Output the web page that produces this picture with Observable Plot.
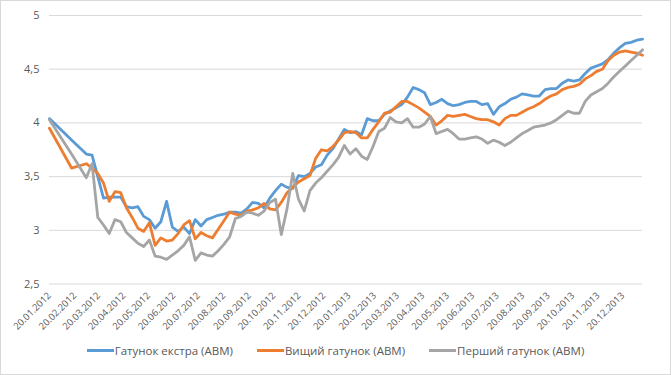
<!DOCTYPE html>
<html>
<head>
<meta charset="utf-8">
<script src="https://cdn.jsdelivr.net/npm/d3@7"></script>
<script src="https://cdn.jsdelivr.net/npm/@observablehq/plot@0.6"></script>
<style>
  html, body { margin: 0; padding: 0; background: #fff; }
  #wrap { position: relative; width: 671px; height: 375px; box-sizing: border-box; border: 1px solid #d9d9d9; background: #fff; overflow: hidden; font-family: "Open Sans", "Liberation Sans", sans-serif; }
  #chart { position: absolute; left: -1px; top: -1px; }
  #legend { position: absolute; left: 0; top: 342px; width: 669px; display: flex; justify-content: center; gap: 24px; font-size: 11.5px; color: #595959; }
  .item { display: flex; align-items: center; }
  .sw { width: 27px; height: 3px; margin-right: 1px; }
</style>
</head>
<body>
<div id="wrap"><div id="chart"></div><div id="legend"></div></div>
<script>
const seriesNames = ["Гатунок екстра (АВМ)", "Вищий гатунок (АВМ)", "Перший гатунок (АВМ)"];
const seriesColors = ["#5b9bd5", "#ed7d31", "#a5a5a5"];

const dates = [
  "2012-01-20","2012-02-16",
  "2012-03-05","2012-03-12","2012-03-19","2012-03-26",
  "2012-04-02","2012-04-09","2012-04-16","2012-04-23","2012-04-30",
  "2012-05-07","2012-05-14","2012-05-21","2012-05-28",
  "2012-06-04","2012-06-11","2012-06-18","2012-06-25",
  "2012-07-02","2012-07-09","2012-07-16","2012-07-23","2012-07-30",
  "2012-08-06","2012-08-13","2012-08-20","2012-08-27",
  "2012-09-03","2012-09-10","2012-09-17","2012-09-24",
  "2012-10-01","2012-10-08","2012-10-15","2012-10-22","2012-10-29",
  "2012-11-05","2012-11-12","2012-11-19","2012-11-26",
  "2012-12-03","2012-12-10","2012-12-17","2012-12-24","2012-12-31",
  "2013-01-07","2013-01-14","2013-01-21","2013-01-28",
  "2013-02-04","2013-02-11","2013-02-18","2013-02-25",
  "2013-03-04","2013-03-11","2013-03-18","2013-03-25",
  "2013-04-01","2013-04-08","2013-04-15","2013-04-22","2013-04-29",
  "2013-05-06","2013-05-13","2013-05-20","2013-05-27",
  "2013-06-03","2013-06-10","2013-06-17","2013-06-24",
  "2013-07-01","2013-07-08","2013-07-15","2013-07-22","2013-07-29",
  "2013-08-05","2013-08-12","2013-08-19","2013-08-26",
  "2013-09-02","2013-09-09","2013-09-16","2013-09-23","2013-09-30",
  "2013-10-07","2013-10-14","2013-10-21","2013-10-28",
  "2013-11-04","2013-11-11","2013-11-18","2013-11-25",
  "2013-12-02","2013-12-09","2013-12-16","2013-12-23","2013-12-30",
  "2014-01-06","2014-01-13"
];

const extra = [4.04,3.84,
  3.71,3.70,3.50,3.30,3.31,3.31,3.31,3.22,3.21,3.22,
  3.13,3.10,3.02,3.08,3.27,3.03,2.99,3.03,2.97,3.10,
  3.04,3.10,3.12,3.14,3.15,3.17,3.17,3.16,3.20,3.26,
  3.25,3.21,3.30,3.37,3.43,3.40,3.39,3.51,3.50,3.53,
  3.59,3.61,3.70,3.76,3.85,3.94,3.91,3.92,3.89,4.04,
  4.02,4.02,4.08,4.11,4.14,4.17,4.24,4.33,4.31,4.28,
  4.17,4.19,4.22,4.18,4.16,4.17,4.19,4.20,4.20,4.17,
  4.18,4.08,4.15,4.18,4.22,4.24,4.27,4.26,4.25,4.25,
  4.31,4.32,4.32,4.37,4.40,4.39,4.40,4.46,4.51,4.53,
  4.55,4.59,4.65,4.70,4.74,4.75,4.77,4.78];

const vyshchyi = [3.95,3.58,
  3.62,3.58,3.53,3.44,3.27,3.36,3.35,3.21,3.12,3.02,
  2.99,3.07,2.86,2.93,2.90,2.91,2.97,3.05,3.09,2.92,
  2.98,2.95,2.93,3.01,3.09,3.17,3.15,3.14,3.18,3.19,
  3.21,3.25,3.20,3.19,3.26,3.35,3.40,3.45,3.48,3.51,
  3.67,3.75,3.74,3.78,3.84,3.91,3.92,3.91,3.86,3.86,
  3.94,4.01,4.09,4.10,4.15,4.20,4.20,4.17,4.14,4.10,
  4.06,3.98,4.02,4.07,4.06,4.07,4.08,4.06,4.04,4.03,
  4.03,4.01,3.98,4.04,4.07,4.07,4.10,4.13,4.15,4.18,
  4.22,4.25,4.27,4.31,4.33,4.34,4.36,4.41,4.44,4.48,
  4.50,4.58,4.63,4.66,4.67,4.66,4.65,4.63];

const pershyi = [4.03,3.71,
  3.49,3.62,3.12,3.05,2.97,3.10,3.08,2.98,2.93,2.88,
  2.85,2.91,2.76,2.75,2.73,2.77,2.81,2.86,2.94,2.72,
  2.79,2.77,2.76,2.81,2.87,2.94,3.11,3.13,3.17,3.16,
  3.14,3.18,3.26,3.29,2.96,3.20,3.53,3.29,3.18,3.37,
  3.44,3.49,3.55,3.61,3.68,3.79,3.71,3.76,3.69,3.66,
  3.78,3.92,3.95,4.05,4.01,4.00,4.04,3.96,3.96,3.99,
  4.06,3.90,3.92,3.94,3.90,3.85,3.85,3.86,3.87,3.85,
  3.81,3.84,3.82,3.79,3.82,3.86,3.90,3.93,3.96,3.97,
  3.98,4.00,4.03,4.07,4.11,4.09,4.09,4.20,4.26,4.29,
  4.32,4.37,4.43,4.48,4.53,4.58,4.63,4.68];

const xTicks = ["2012-01-20","2012-02-20","2012-03-20","2012-04-20","2012-05-20","2012-06-20",
  "2012-07-20","2012-08-20","2012-09-20","2012-10-20","2012-11-20","2012-12-20",
  "2013-01-20","2013-02-20","2013-03-20","2013-04-20","2013-05-20","2013-06-20",
  "2013-07-20","2013-08-20","2013-09-20","2013-10-20","2013-11-20","2013-12-20"];
const yTicks = [2.5, 3, 3.5, 4, 4.5, 5];

const allValues = [extra, vyshchyi, pershyi];
const rows = [];
allValues.forEach((vals, s) => {
  vals.forEach((v, i) => rows.push({date: new Date(dates[i]), value: v, series: seriesNames[s]}));
});

const fmtDate = d3.utcFormat("%d.%m.%Y");
const chart = Plot.plot({
  width: 671,
  height: 336,
  marginLeft: 49,
  marginRight: 28,
  marginTop: 15,
  marginBottom: 52,
  style: {fontFamily: "'Open Sans', 'Liberation Sans', sans-serif", color: "#595959", background: "transparent"},
  x: {type: "utc", domain: [new Date(dates[0]), new Date(dates[dates.length - 1])]},
  y: {domain: [2.5, 5]},
  color: {domain: seriesNames, range: seriesColors},
  marks: [
    Plot.gridY(yTicks, {stroke: "#d9d9d9", strokeOpacity: 1, strokeWidth: 1}),
    Plot.axisY(yTicks, {tickSize: 0, tickPadding: 10, fontSize: 11, fill: "#595959", tickFormat: d => String(d).replace(".", ","), label: null}),
    Plot.axisX(xTicks.map(d => new Date(d)), {tickSize: 0, tickPadding: 10, tickRotate: -45, fontSize: 9.5, fill: "#595959", tickFormat: fmtDate, label: null}),
    Plot.lineY(rows, {x: "date", y: "value", z: "series", stroke: "series", strokeWidth: 2.8, strokeLinejoin: "round", strokeLinecap: "round"})
  ]
});
document.getElementById("chart").appendChild(chart);

const legend = document.getElementById("legend");
seriesNames.forEach((name, i) => {
  const it = document.createElement("div");
  it.className = "item";
  const sw = document.createElement("span");
  sw.className = "sw";
  sw.style.background = seriesColors[i];
  const t = document.createElement("span");
  t.textContent = name;
  it.appendChild(sw); it.appendChild(t);
  legend.appendChild(it);
});
</script>
</body>
</html>
